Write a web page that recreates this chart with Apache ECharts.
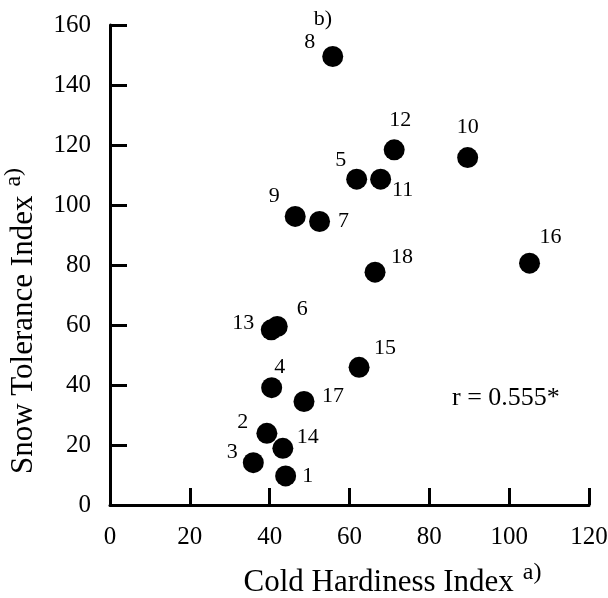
<!DOCTYPE html>
<html>
<head>
<meta charset="utf-8">
<script src="https://cdn.jsdelivr.net/npm/echarts@6/dist/echarts.min.js"></script>
<style>html,body{margin:0;padding:0;background:#fff;}#c{width:608px;height:598px;}</style>
</head>
<body>
<div id="c"></div>
<script>
// Data
var ids = ['1','2','3','4','5','6','7','8','9','10','11','12','13','14','15','16','17','18'];
var coldHardiness = [44.0, 39.3, 35.9, 40.5, 61.8, 41.9, 52.5, 55.8, 46.4, 89.6, 67.8, 71.2, 40.4, 43.3, 62.4, 105.1, 48.6, 66.4];
var snowTolerance = [9.7, 23.9, 14.1, 39.1, 108.6, 59.5, 94.5, 149.5, 96.2, 115.8, 108.6, 118.4, 58.4, 18.9, 45.9, 80.6, 34.5, 77.6];
var xTicks = [0, 20, 40, 60, 80, 100, 120];
var yTicks = [0, 20, 40, 60, 80, 100, 120, 140, 160];
var corrText = 'r = 0.555*';

// label placement (style only)
var labelOffsets = {
  '1': [22, 0], '2': [-24, -11], '3': [-21, -10], '4': [8, -20], '5': [-16, -19],
  '6': [25, -17], '7': [24, 0], '8': [-23, -14], '9': [-21, -20], '10': [0, -30],
  '11': [22, 11], '12': [6, -30], '13': [-28, -7], '14': [25, -11], '15': [26, -19],
  '16': [21, -26], '17': [29, -5], '18': [27, -15]
};

var FONT = 'Liberation Serif';
var data = ids.map(function (id, i) {
  return {
    value: [coldHardiness[i], snowTolerance[i]],
    name: id,
    label: { offset: labelOffsets[id] }
  };
});

var chart = echarts.init(document.getElementById('c'), null, { renderer: 'canvas' });
var axisCommon = {
  axisLine: { show: true, lineStyle: { color: '#000', width: 3 } },
  axisTick: { show: true, inside: true, length: 17, lineStyle: { color: '#000', width: 3 } },
  splitLine: { show: false },
  axisLabel: { color: '#000', fontFamily: FONT, fontSize: 25 }
};
var nameRich = {
  m: { fontFamily: FONT, fontSize: 31, color: '#000' },
  s: { fontFamily: FONT, fontSize: 24, color: '#000', padding: [0, 0, 20, 9] }
};
chart.setOption({
  animation: false,
  backgroundColor: '#fff',
  grid: { left: 110, right: 19, top: 25, bottom: 93, containLabel: false, outerBoundsMode: 'none' },
  xAxis: Object.assign({}, axisCommon, {
    type: 'value', min: xTicks[0], max: xTicks[xTicks.length - 1], interval: 20,
    axisLabel: Object.assign({}, axisCommon.axisLabel, { margin: 20 }),
    name: '{m|Cold Hardiness Index}{s|a)}',
    nameLocation: 'middle', nameGap: 56,
    nameTextStyle: { padding: [0, 0, 0, 86], rich: nameRich }
  }),
  yAxis: Object.assign({}, axisCommon, {
    type: 'value', min: yTicks[0], max: yTicks[yTicks.length - 1], interval: 20,
    axisLabel: Object.assign({}, axisCommon.axisLabel, { margin: 19 }),
    name: '{m|Snow Tolerance Index}{s|a)}',
    nameLocation: 'middle', nameGap: 64,
    nameTextStyle: { padding: [0, 112, 0, 0], rich: nameRich }
  }),
  graphic: [
    { type: 'text', x: 452, y: 398, style: { text: corrText, fontFamily: FONT, fontSize: 26, fill: '#000', align: 'left', verticalAlign: 'middle' } },
    { type: 'text', x: 323, y: 19, style: { text: 'b)', fontFamily: FONT, fontSize: 22, fill: '#000', align: 'center', verticalAlign: 'middle' } }
  ],
  series: [{
    type: 'scatter',
    data: data,
    symbol: 'circle',
    symbolSize: 21,
    itemStyle: { color: '#000', opacity: 1 },
    label: {
      show: true, position: 'inside', formatter: '{b}',
      color: '#000', fontFamily: FONT, fontSize: 22
    }
  }]
});
</script>
</body>
</html>
